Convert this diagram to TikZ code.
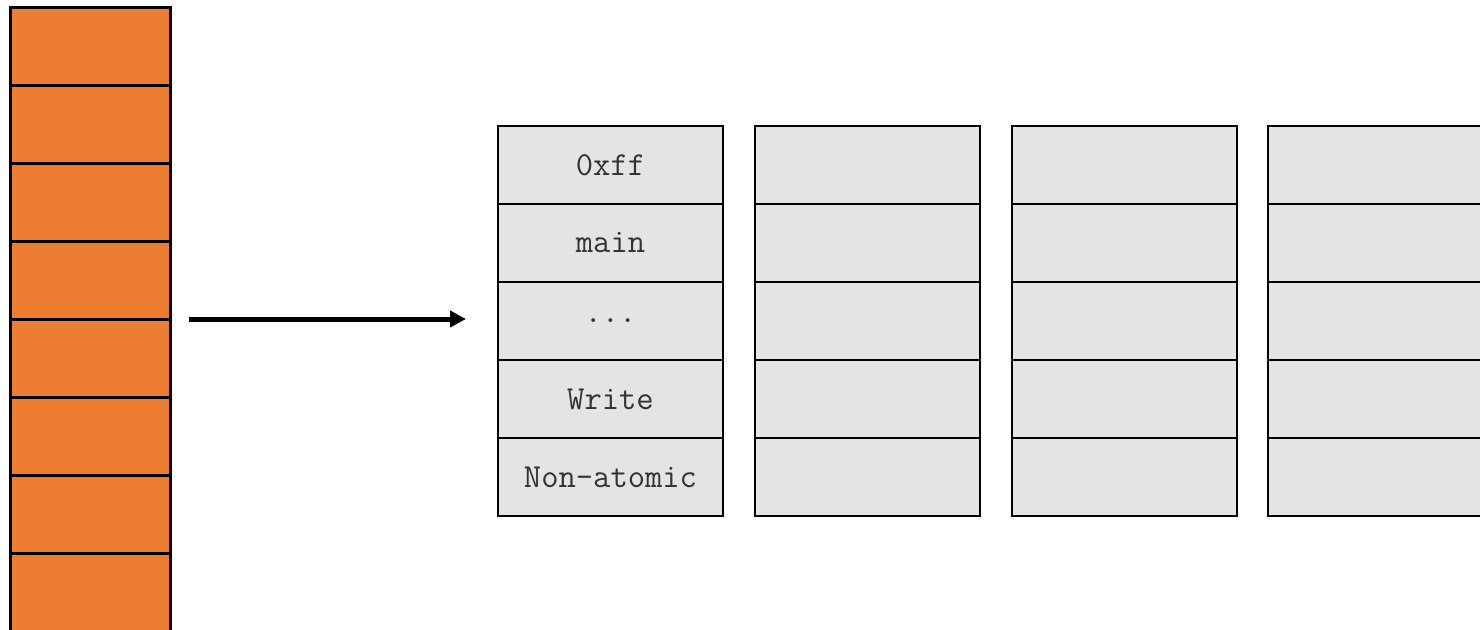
\documentclass[tikz,border=0pt]{standalone}
\usepackage{fontspec}
\usepackage{tikz}
\usetikzlibrary{positioning,arrows.meta}

\definecolor{slotorange}{HTML}{ED7D31}
\definecolor{framegray}{HTML}{E4E4E4}
\definecolor{labelgray}{HTML}{333333}

\begin{document}
\begin{tikzpicture}[node distance=0pt,
  slot/.style={rectangle, draw, line width=1.5pt, fill=slotorange, minimum width=80pt, minimum height=39pt, inner sep=0pt, outer sep=0pt},
  frame/.style={rectangle, draw, line width=1.2pt, fill=framegray, minimum width=112.5pt, minimum height=39pt, inner sep=0pt, outer sep=0pt, text=labelgray, font=\ttfamily\fontsize{16.8}{20}\selectfont},
  pointer/.style={line width=2.5pt, -{Triangle[length=8pt,width=8pt]}}]
\useasboundingbox (0,0) rectangle (740pt,314.5pt);
% orange slots
\node[slot,anchor=north west] (o1) at (5pt,311pt) {};
\foreach \i [remember=\i as \j (initially 1)] in {2,...,8}
  \node[slot,below=of o\j] (o\i) {};
% frame stacks
\node[frame,anchor=north west] (c1-1) at (249pt,251.5pt) {0xff};
\node[frame,below=of c1-1] (c1-2) {main};
\node[frame,below=of c1-2] (c1-3) {...};
\node[frame,below=of c1-3] (c1-4) {Write};
\node[frame,below=of c1-4] (c1-5) {Non-atomic};
\foreach \c/\x in {2/377.5pt,3/506pt,4/634pt}{
  \node[frame,anchor=north west] (c\c-1) at (\x,251.5pt) {};
  \foreach \r [remember=\r as \s (initially 1)] in {2,...,5}
    \node[frame,below=of c\c-\s] (c\c-\r) {};
}
\draw[pointer, shorten <=9.5pt, shorten >=16pt] (o4.south east) -- (o4.south east -| c1-3.west);
\end{tikzpicture}
\end{document}
